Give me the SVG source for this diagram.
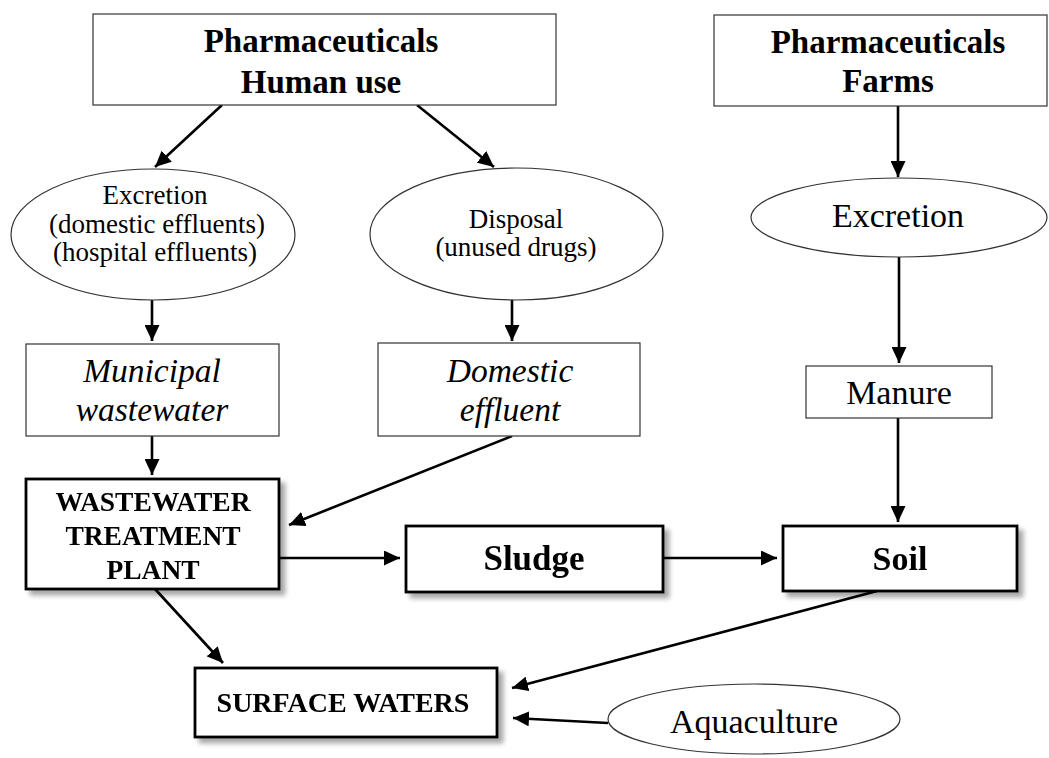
<svg xmlns="http://www.w3.org/2000/svg" width="1049" height="758" viewBox="0 0 1049 758">
<style>
.thin{fill:#fff;stroke:#333;stroke-width:1.2}
.bold{fill:#fff;stroke:#000;stroke-width:2.8}
.t{font-family:"Liberation Serif","Times New Roman",serif;fill:#000;text-anchor:middle}
.b{font-weight:bold}
.i{font-style:italic}
.c line{stroke:#000;stroke-width:2.6;marker-end:url(#ah)}
</style>
<defs>
<marker id="ah" markerUnits="userSpaceOnUse" markerWidth="17" markerHeight="15" refX="16" refY="7.5" orient="auto">
<path d="M0,0 L16,7.5 L0,15 z" fill="#000"/>
</marker>
<filter id="sh" x="-10%" y="-10%" width="130%" height="140%">
<feGaussianBlur in="SourceAlpha" stdDeviation="2.5"/>
<feOffset dx="5" dy="5" result="o"/>
<feComponentTransfer><feFuncA type="linear" slope="0.35"/></feComponentTransfer>
<feMerge><feMergeNode/><feMergeNode in="SourceGraphic"/></feMerge>
</filter>
</defs>
<rect width="1049" height="758" fill="#fff"/>
<g class="c" id="connectors">
<line x1="222" y1="105" x2="155" y2="167"/>
<line x1="417" y1="105" x2="494" y2="167"/>
<line x1="898" y1="106" x2="898" y2="177"/>
<line x1="152" y1="300" x2="152" y2="341"/>
<line x1="512" y1="300" x2="512" y2="341"/>
<line x1="899" y1="257" x2="899" y2="363"/>
<line x1="152" y1="436" x2="152" y2="475"/>
<line x1="512" y1="436" x2="289" y2="525"/>
<line x1="898" y1="418" x2="898" y2="522"/>
<line x1="279" y1="558" x2="400" y2="558"/>
<line x1="663" y1="558" x2="777" y2="558"/>
<line x1="155" y1="589" x2="223" y2="663"/>
<line x1="877" y1="591" x2="512" y2="688"/>
<line x1="608" y1="723" x2="513" y2="718"/>
</g>
<g id="human">
<rect class="thin" x="93" y="14" width="463" height="91"/>
<text class="t b" x="321" y="52" font-size="33">Pharmaceuticals</text>
<text class="t b" x="321" y="93" font-size="33">Human use</text>
</g>
<g id="farms">
<rect class="thin" x="714" y="15" width="333" height="91"/>
<text class="t b" x="888" y="53" font-size="33">Pharmaceuticals</text>
<text class="t b" x="888" y="92" font-size="33">Farms</text>
</g>
<g id="excretion1">
<ellipse class="thin" cx="153" cy="234.5" rx="142" ry="65.5"/>
<text class="t" x="155" y="204" font-size="27">Excretion</text>
<text class="t" x="157" y="233" font-size="27">(domestic effluents)</text>
<text class="t" x="155" y="261" font-size="27">(hospital effluents)</text>
</g>
<g id="disposal">
<ellipse class="thin" cx="516.5" cy="234" rx="146.5" ry="66"/>
<text class="t" x="516" y="228" font-size="27">Disposal</text>
<text class="t" x="516" y="256" font-size="27">(unused drugs)</text>
</g>
<g id="excretion2">
<ellipse class="thin" cx="899" cy="217.5" rx="148" ry="39.5"/>
<text class="t" x="898" y="227" font-size="34">Excretion</text>
</g>
<g id="municipal">
<rect class="thin" x="26" y="344" width="253" height="92"/>
<text class="t i" x="152" y="382" font-size="33.5">Municipal</text>
<text class="t i" x="152" y="421" font-size="33.5">wastewater</text>
</g>
<g id="domestic">
<rect class="thin" x="378" y="343" width="262" height="93"/>
<text class="t i" x="510" y="382" font-size="33.5">Domestic</text>
<text class="t i" x="510" y="421" font-size="33.5">effluent</text>
</g>
<g id="manure">
<rect class="thin" x="806" y="366" width="186" height="52"/>
<text class="t" x="899" y="404" font-size="34">Manure</text>
</g>
<g id="wwtp" filter="url(#sh)">
<rect class="bold" x="26" y="479" width="253" height="110"/>
<text class="t b" x="153" y="511" font-size="27.5">WASTEWATER</text>
<text class="t b" x="153" y="545" font-size="27.5">TREATMENT</text>
<text class="t b" x="153" y="579" font-size="27.5">PLANT</text>
</g>
<g id="sludge" filter="url(#sh)">
<rect class="bold" x="406" y="526" width="257" height="66"/>
<text class="t b" x="534" y="570" font-size="35">Sludge</text>
</g>
<g id="soil" filter="url(#sh)">
<rect class="bold" x="783" y="526" width="234" height="65"/>
<text class="t b" x="900" y="570" font-size="34">Soil</text>
</g>
<g id="surface" filter="url(#sh)">
<rect class="bold" x="195" y="668" width="302" height="69"/>
<text class="t b" x="343" y="712" font-size="28">SURFACE WATERS</text>
</g>
<g id="aquaculture">
<ellipse class="thin" cx="754" cy="719" rx="146" ry="35"/>
<text class="t" x="754" y="733" font-size="34">Aquaculture</text>
</g>
</svg>
